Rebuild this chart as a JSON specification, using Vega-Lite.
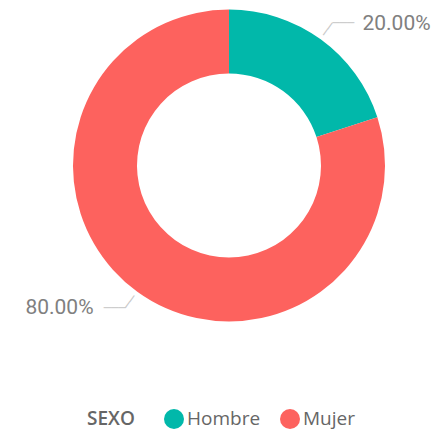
{
  "$schema": "https://vega.github.io/schema/vega-lite/v6.json",
  "width": 410,
  "height": 331,
  "padding": {"left": 24, "top": 0, "right": 0, "bottom": 101},
  "autosize": "none",
  "background": "white",
  "config": {"view": {"stroke": null}},
  "data": {"values": [
    {"sexo": "Hombre", "pct": 0.2},
    {"sexo": "Mujer", "pct": 0.8}
  ]},
  "encoding": {
    "theta": {"field": "pct", "type": "quantitative", "stack": true}
  },
  "layer": [
    {
      "mark": {"type": "arc", "radius": 156, "radius2": 92},
      "encoding": {
        "color": {
          "field": "sexo", "type": "nominal",
          "scale": {"domain": ["Hombre", "Mujer"], "range": ["#01B8AA", "#FD625E"]},
          "legend": {
            "orient": "none", "legendX": 63, "legendY": 409,
            "direction": "horizontal", "titleOrient": "left", "title": "SEXO",
            "titleFont": "Open Sans", "titleFontSize": 19, "titleFontWeight": 600, "titleColor": "#666666",
            "titlePadding": 29, "titleBaseline": "middle",
            "labelFont": "Open Sans", "labelFontSize": 19, "labelColor": "#666666",
            "symbolType": "circle", "symbolSize": 400, "symbolStrokeWidth": 0,
            "labelOffset": 3, "columnPadding": 19
          }
        }
      }
    },
    {
      "mark": {"type": "text", "radius": 168.5, "align": "center", "baseline": "middle", "angle": -54, "font": "DejaVu Sans Mono", "fontSize": 12.5, "color": "#c8c8c8"},
      "encoding": {
        "detail": {"field": "sexo", "type": "nominal"},
        "text": {"value": "──"}
      }
    },
    {
      "mark": {"type": "text", "radius": 176, "align": "left", "baseline": "middle", "font": "DejaVu Sans Mono", "fontSize": 12, "color": "#c8c8c8"},
      "encoding": {
        "detail": {"field": "sexo", "type": "nominal"},
        "text": {"condition": {"test": "datum.sexo === 'Hombre'", "value": "───"}, "value": ""}
      }
    },
    {
      "mark": {"type": "text", "radius": 176, "align": "right", "baseline": "middle", "font": "DejaVu Sans Mono", "fontSize": 12, "color": "#c8c8c8"},
      "encoding": {
        "detail": {"field": "sexo", "type": "nominal"},
        "text": {"condition": {"test": "datum.sexo === 'Mujer'", "value": "───"}, "value": ""}
      }
    },
    {
      "mark": {"type": "text", "radius": 176, "align": "left", "baseline": "middle", "dx": 30, "dy": 1, "font": "Roboto", "fontSize": 21, "color": "#808080"},
      "encoding": {
        "detail": {"field": "sexo", "type": "nominal"},
        "text": {"condition": {"test": "datum.sexo === 'Hombre'", "field": "pct", "type": "quantitative", "format": ".2%"}, "value": ""}
      }
    },
    {
      "mark": {"type": "text", "radius": 176, "align": "right", "baseline": "middle", "dx": -32, "dy": 0, "font": "Roboto", "fontSize": 21, "color": "#808080"},
      "encoding": {
        "detail": {"field": "sexo", "type": "nominal"},
        "text": {"condition": {"test": "datum.sexo === 'Mujer'", "field": "pct", "type": "quantitative", "format": ".2%"}, "value": ""}
      }
    }
  ]
}
